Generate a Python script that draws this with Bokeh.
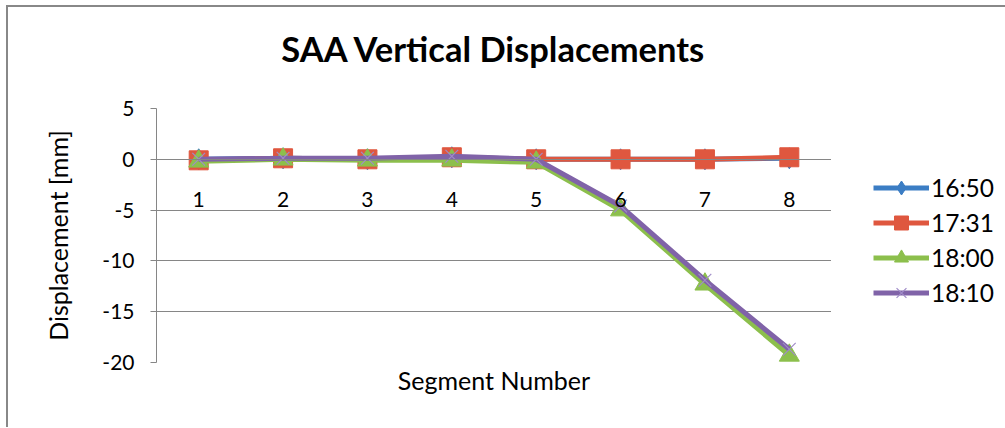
from bokeh.plotting import figure
from bokeh.layouts import row
from bokeh.models import Range1d, FixedTicker, LinearAxis, Legend, LegendItem, Title
from bokeh.embed import file_html
from bokeh.resources import INLINE

segments = [1, 2, 3, 4, 5, 6, 7, 8]
tick_values = [-20, -15, -10, -5, 0, 5]
tick_labels = ["-20", "-15", "-10", "-5", "0", "5"]
series_names = ["16:50", "17:31", "18:00", "18:10"]
d_1650 = [0.0, 0.1, 0.0, 0.2, 0.0, 0.0, 0.0, 0.1]
d_1731 = [-0.1, 0.1, 0.0, 0.2, 0.0, 0.0, 0.0, 0.2]
d_1800 = [-0.2, 0.0, -0.1, -0.1, -0.3, -5.0, -12.3, -19.3]
d_1810 = [0.0, 0.1, 0.1, 0.3, 0.0, -4.6, -11.9, -18.7]

FONT = "Lato"
GRAY = "#868686"
colors = ["#3B7DC4", "#DF573F", "#8CBF4C", "#8063A8"]
markers = ["diamond", "square", "triangle", "x"]
marker_sizes = [21, 19, 20, 18]
LW = 5

p = figure(width=823, height=420, output_backend="svg", toolbar_location=None,
           x_range=Range1d(0.5, 8.5), y_range=Range1d(-20, 5),
           min_border_left=148, min_border_right=0, min_border_top=101,
           min_border_bottom=65, x_axis_location=None)
p.title.text = ""
p.outline_line_color = None
p.background_fill_color = "white"
p.border_fill_color = "white"

# invisible spacer between title and plot area (innermost item above the frame)
sp = LinearAxis(ticker=FixedTicker(ticks=[segments[0]]))
sp.major_label_overrides = {segments[0]: ""}
sp.axis_line_color = None
sp.major_tick_line_color = None
sp.minor_tick_line_color = None
sp.major_tick_out = 40
sp.major_tick_in = 0
sp.major_label_standoff = 0
sp.major_label_text_font_size = "1px"
p.add_layout(sp, "above")

title = Title(text="SAA Vertical Displacements", align="center", standoff=0,
              text_font=FONT, text_font_style="bold", text_font_size="34.5px",
              text_color="black")
p.add_layout(title, "above")

# category axis crossing at zero
xax = LinearAxis(fixed_location=0, ticker=FixedTicker(ticks=segments))
xax.axis_line_color = GRAY
xax.major_tick_line_color = None
xax.minor_tick_line_color = None
xax.major_label_standoff = 27
xax.major_label_text_font = FONT
xax.major_label_text_font_size = "21px"
xax.major_label_text_color = "black"
p.add_layout(xax, "below")

# axis title below frame
xt = LinearAxis(ticker=FixedTicker(ticks=[]), axis_label="Segment Number")
xt.axis_line_color = None
xt.major_tick_line_color = None
xt.minor_tick_line_color = None
xt.major_label_text_font_size = "0px"
xt.axis_label_standoff = 2
xt.axis_label_text_font = FONT
xt.axis_label_text_font_size = "25px"
xt.axis_label_text_font_style = "normal"
xt.axis_label_text_color = "black"
p.add_layout(xt, "below")

ya = p.yaxis[0]
ya.ticker = FixedTicker(ticks=tick_values)
ya.major_label_overrides = dict(zip(tick_values, tick_labels))
ya.axis_label = "Displacement [mm]"
ya.axis_label_text_font = FONT
ya.axis_label_text_font_size = "25px"
ya.axis_label_text_font_style = "normal"
ya.axis_label_text_color = "black"
ya.axis_label_standoff = 26
ya.axis_line_color = GRAY
ya.major_tick_line_color = GRAY
ya.major_tick_out = 6
ya.major_tick_in = 0
ya.minor_tick_line_color = None
ya.major_label_standoff = 16
ya.major_label_text_font = FONT
ya.major_label_text_font_size = "21px"
ya.major_label_text_color = "black"

p.xgrid.visible = False
p.ygrid.ticker = FixedTicker(ticks=tick_values)
p.ygrid.grid_line_color = GRAY
p.ygrid.grid_line_width = 1

series = [d_1650, d_1731, d_1800, d_1810]
for i, vals in enumerate(series):
    p.line(segments, vals, line_color=colors[i], line_width=LW)
    if markers[i] == "x":
        p.scatter(segments, vals, marker="x", size=marker_sizes[i], line_color="#A08CC8", line_width=1.2)
    else:
        p.scatter(segments, vals, marker=markers[i], size=marker_sizes[i],
                  fill_color=colors[i], line_color=colors[i])

# legend panel to the right of the plot area (frames are aligned by the row)
q = figure(width=174, height=420, output_backend="svg", toolbar_location=None,
           x_axis_location=None, y_axis_location=None,
           x_range=Range1d(0, 1), y_range=Range1d(0, 1),
           min_border_left=0, min_border_right=0, min_border_top=0, min_border_bottom=0)
q.outline_line_color = None
q.xgrid.visible = False
q.ygrid.visible = False
q.border_fill_color = "white"
nan = float("nan")
items = []
for i, name in enumerate(series_names):
    lr = q.line([nan], [nan], line_color=colors[i], line_width=LW)
    if markers[i] == "x":
        mr = q.scatter([nan], [nan], marker="x", size=marker_sizes[i], line_color="#A08CC8", line_width=1.2)
    else:
        mr = q.scatter([nan], [nan], marker=markers[i], size=marker_sizes[i],
                       fill_color=colors[i], line_color=colors[i])
    items.append(LegendItem(label=name, renderers=[lr, mr]))

legend = Legend(items=items, location=(42, 52), orientation="vertical")
legend.border_line_color = None
legend.background_fill_alpha = 0
legend.padding = 0
legend.margin = 0
legend.glyph_width = 56
legend.glyph_height = 35
legend.label_height = 35
legend.spacing = 0
legend.label_standoff = 2
legend.label_text_font = FONT
legend.label_text_font_size = "24.5px"
legend.label_text_color = "black"
legend.label_text_baseline = "middle"
q.add_layout(legend, "center")

layout = row(p, q)
layout.styles = {"margin-left": "6px", "margin-top": "5px",
                 "border-top": "2px solid #888888", "border-left": "2px solid #888888"}

open("out.html", "w").write(file_html(layout, INLINE))
